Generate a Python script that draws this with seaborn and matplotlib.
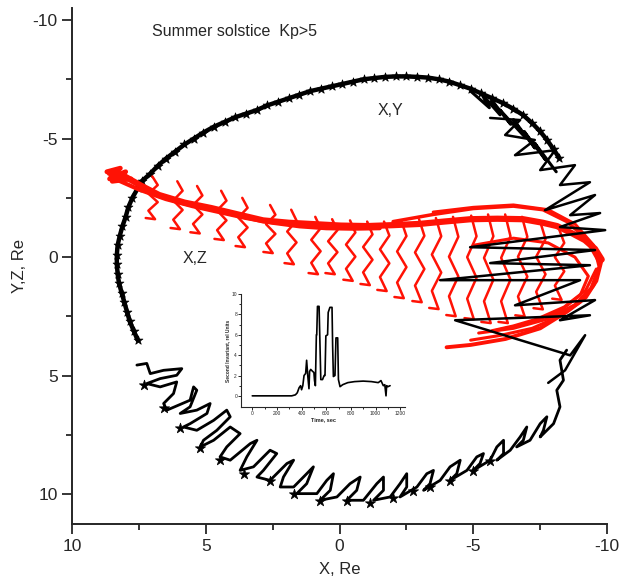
import numpy as np
import pandas as pd
import matplotlib
matplotlib.use("Agg")
import matplotlib.pyplot as plt
import seaborn as sns

# ---- X,Y projection (black), Re ----
xy_arc_x = [7.55, 7.7, 7.85, 7.95, 8.05, 8.15, 8.25, 8.3, 8.33, 8.33, 8.3, 8.22, 8.12, 8.0, 7.9,
            7.75, 7.55, 7.4, 7.1, 6.8, 6.5, 6.15, 5.8, 5.45, 5.1, 4.7, 4.3, 3.9, 3.5, 3.1, 2.7,
            2.3, 1.9, 1.5, 1.1, 0.7, 0.3, -0.1, -0.5, -0.9, -1.3, -1.7, -2.1, -2.5, -2.9, -3.3,
            -3.7, -4.1, -4.5, -4.9, -5.3, -5.7, -6.1, -6.5, -6.85, -7.2, -7.5, -7.75, -8.0, -8.2]
xy_arc_y = [3.5, 3.1, 2.7, 2.3, 1.9, 1.5, 1.1, 0.7, 0.3, -0.1, -0.5, -0.9, -1.3, -1.7, -2.1,
            -2.5, -2.9, -3.2, -3.5, -3.85, -4.15, -4.45, -4.75, -5.0, -5.25, -5.5, -5.7, -5.9,
            -6.05, -6.2, -6.4, -6.55, -6.7, -6.85, -7.0, -7.1, -7.2, -7.3, -7.4, -7.5, -7.55,
            -7.6, -7.62, -7.62, -7.6, -7.57, -7.5, -7.4, -7.25, -7.1, -6.9, -6.7, -6.5, -6.25,
            -6.0, -5.65, -5.3, -4.95, -4.55, -4.2]

# tangled loops just inside the arc on the dusk side
xy_loops_x = [-4.9, -5.6, -5.3, -6.0, -5.7, -6.4, -6.0, -6.9, -6.5, -7.3, -6.9, -7.7, -7.3, -8.1]
xy_loops_y = [-7.0, -6.3, -6.9, -6.0, -6.6, -5.6, -6.2, -5.1, -5.8, -4.6, -5.3, -4.1, -4.8, -3.6]

xy_right_x = [-5.63, -6.75, -6.19, -7.3, -6.56, -8.06, -7.5, -8.8, -8.24, -9.36, -7.68, -9.55,
              -8.62, -9.74, -8.24, -9.93, -4.88, -9.55, -5.63, -9.36, -3.76, -8.99, -6.56,
              -9.55, -8.24, -9.36, -4.32, -8.62, -9.18, -8.43, -7.8]
xy_right_y = [-5.87, -5.78, -5.15, -4.94, -4.3, -4.51, -3.67, -3.88, -3.04, -3.16, -1.98, -2.62,
              -1.77, -1.86, -1.27, -1.14, -0.42, -0.3, 0.25, 0.34, 0.97, 0.97, 2.03, 1.81, 2.66,
              2.45, 2.66, 4.14, 3.29, 4.77, 5.3]

xy_bottom_x = [7.58, 7.21, 7.08, 6.58, 5.9, 6.09, 6.71, 7.21, 6.71, 6.09,
               6.21, 6.58, 6.46, 5.59, 5.46, 5.34, 5.59, 5.96, 5.34, 4.84,
               4.96, 5.59, 5.84, 5.34, 4.71, 4.22, 4.09, 4.59, 5.09, 5.21,
               4.71, 4.09, 3.72, 4.22, 4.47, 4.09, 3.34, 3.09, 3.47, 3.72,
               3.22, 2.6, 2.35, 2.85, 3.09, 2.6, 1.97, 1.72, 2.1, 2.22,
               1.72, 1.23, 0.98, 1.23, 1.6, 0.85, 0.48, 0.23, 0.35, 0.73,
               0.1, -0.39, -0.77, -0.64, -0.27, -0.89, -1.39, -1.64, -1.64, -1.27,
               -1.89, -2.26, -2.51, -2.51, -2.26, -2.89, -3.26, -3.51, -3.38, -3.14,
               -3.76, -4.13, -4.51, -4.38, -4.13, -4.76, -5.13, -5.38, -5.25, -5.0,
               -5.63, -5.88, -6.13, -6.13, -5.88, -6.38, -6.75, -7.0, -6.87, -6.62,
               -7.12, -7.5, -7.75, -7.62, -7.5, -8.0, -8.24, -8.12, -8.37, -8.24, -8.49]
xy_bottom_y = [4.55, 4.48, 4.91, 4.77, 4.7, 4.98, 5.12, 5.33, 5.47, 5.26,
               5.75, 6.17, 6.45, 6.03, 5.47, 5.61, 6.31, 6.59, 6.45, 6.17,
               6.59, 7.02, 7.16, 7.3, 6.88, 6.45, 6.73, 7.3, 7.72, 8.0,
               7.72, 7.16, 7.44, 8.0, 8.42, 8.56, 7.86, 7.72, 8.42, 8.99,
               8.84, 8.14, 8.28, 8.99, 9.27, 9.41, 8.7, 8.56, 9.27, 9.69,
               9.69, 9.13, 8.84, 9.55, 9.97, 9.97, 9.41, 9.13, 9.83, 10.25,
               10.11, 9.55, 9.27, 9.83, 10.25, 10.25, 9.55, 9.27, 9.83, 10.25,
               10.11, 9.55, 9.13, 9.69, 10.11, 9.69, 9.13, 8.99, 9.55, 9.83,
               9.41, 8.84, 8.56, 9.13, 9.41, 8.99, 8.42, 8.28, 8.7, 8.99,
               8.56, 8.0, 7.72, 8.28, 8.56, 8.14, 7.58, 7.16, 7.72, 8.0,
               7.72, 7.02, 6.73, 7.3, 7.58, 7.02, 6.31, 5.61, 5.19, 4.34, 3.92]

xy_star_x = [7.33, 6.58, 5.96, 5.21, 4.47, 3.59, 2.6, 1.72, 0.73, -0.27, -1.14, -2.01, -2.76,
             -3.38, -4.13, -5.0, -5.63]
xy_star_y = [5.4, 6.35, 7.2, 8.05, 8.55, 9.15, 9.45, 10.0, 10.3, 10.3, 10.35, 10.15, 9.85, 9.7,
             9.45, 9.0, 8.6]

# ---- X,Z projection (red), Re ----
xz_band_x = [8.6, 8.3, 8.0, 7.4, 6.75, 5.8, 4.8, 3.8, 2.86, 1.9, 0.93, -0.05, -1.03, -2.0, -2.97,
             -3.9, -4.9, -5.9, -6.86, -7.6, -8.13, -8.7, -9.17, -9.55, -9.8]
xz_band_y = [-3.55, -3.5, -3.38, -3.0, -2.62, -2.3, -2.07, -1.8, -1.55, -1.45, -1.39, -1.33,
             -1.31, -1.35, -1.4, -1.5, -1.6, -1.62, -1.6, -1.45, -1.31, -1.0, -0.72, -0.35, 0.1]
xz_band2_x = [8.5, 7.5, 6.5, 5.5, 4.5, 3.5, 2.5, 1.5, 0.5, -0.5, -1.5]
xz_band2_y = [-3.35, -2.85, -2.45, -2.15, -1.9, -1.65, -1.45, -1.3, -1.22, -1.2, -1.22]
xz_nose_x = [-9.8, -9.6, -9.2, -8.5, -7.5, -6.2, -4.9, -4.0]
xz_nose_y = [0.1, 1.0, 1.7, 2.3, 3.0, 3.45, 3.7, 3.8]
xz_upper_x = [-2.0, -3.5, -5.0, -6.5, -7.6, -8.5, -9.2, -9.7]
xz_upper_y = [-1.5, -1.8, -2.05, -2.15, -2.0, -1.5, -0.8, 0.2]
xz_ret1_x = [-9.75, -9.5, -9.0, -8.2, -7.2, -6.0, -4.9]
xz_ret1_y = [0.3, 1.2, 1.9, 2.5, 3.0, 3.3, 3.5]
xz_ret2_x = [-9.6, -9.2, -8.4, -7.4, -6.5, -5.7]
xz_ret2_y = [0.5, 1.4, 2.1, 2.6, 2.9, 3.1]
xz_mesh1_x = [-3.5, -5.0, -6.5, -7.8, -8.8, -9.5, -9.7, -9.4, -8.8, -7.8, -6.5, -5.2]
xz_mesh1_y = [-1.9, -2.1, -2.2, -2.0, -1.4, -0.5, 0.4, 1.3, 2.0, 2.6, 3.0, 3.2]
xz_mesh2_x = [-5.0, -6.5, -7.8, -8.8, -9.3, -9.0, -8.2, -7.0, -5.8]
xz_mesh2_y = [-0.5, -0.8, -0.6, 0.0, 0.8, 1.6, 2.3, 2.8, 3.1]
xz_blob_x = [8.7, 8.2, 8.6, 8.0, 8.5, 7.8]
xz_blob_y = [-3.6, -3.75, -3.3, -3.6, -3.2, -3.3]

# bounce zigzags hanging off the X,Z band, left to right
xz_hang_x = [
    [7.0, 6.8, 7.15, 6.8, 7.15, 6.9, 7.25],
    [6.07, 5.87, 6.22, 5.87, 6.22, 5.97, 6.32],
    [5.33, 5.13, 5.48, 5.13, 5.48, 5.23, 5.58],
    [4.43, 4.23, 4.58, 4.23, 4.58, 4.33, 4.68],
    [3.64, 3.44, 3.79, 3.44, 3.79, 3.54, 3.89],
    [2.6, 2.4, 2.75, 2.4, 2.75, 2.5, 2.85],
    [1.81, 1.61, 1.96, 1.61, 1.96, 1.71, 2.06],
    [0.91, 0.71, 1.06, 0.71, 1.06, 0.81, 1.16],
    [0.28, 0.08, 0.43, 0.08, 0.43, 0.18, 0.53],
    [-0.39, -0.59, -0.24, -0.59, -0.24, -0.49, -0.14],
    [-1.03, -1.23, -0.88, -1.23, -0.88, -1.13, -0.78],
    [-1.66, -1.86, -1.51, -1.86, -1.51, -1.76, -1.41],
    [-2.3, -2.5, -2.15, -2.5, -2.15, -2.4, -2.05],
    [-2.97, -3.17, -2.82, -3.17, -2.82, -3.07, -2.72],
    [-3.6, -3.8, -3.45, -3.8, -3.45, -3.7, -3.35],
    [-4.24, -4.44, -4.09, -4.44, -4.09, -4.34, -3.99],
    [-4.92, -5.12, -4.77, -5.12, -4.77, -5.02, -4.67],
    [-5.55, -5.75, -5.4, -5.75, -5.4, -5.65, -5.3],
    [-6.19, -6.39, -6.04, -6.39, -6.04, -6.29, -5.94],
    [-6.82, -7.02, -6.67, -7.02, -6.67, -6.92, -6.57],
    [-7.5, -7.7, -7.35, -7.7, -7.35, -7.6, -7.25],
    [-8.2, -8.4, -8.05, -8.4, -8.05, -8.3, -7.95],
]
xz_hang_y = [
    [-3.4, -3.04, -2.68, -2.32, -1.96, -1.6, -1.65],
    [-3.2, -2.8, -2.39, -1.99, -1.58, -1.18, -1.23],
    [-3.0, -2.6, -2.2, -1.8, -1.4, -1.0, -1.05],
    [-2.8, -2.38, -1.97, -1.55, -1.14, -0.72, -0.77],
    [-2.5, -2.08, -1.67, -1.25, -0.84, -0.42, -0.47],
    [-2.2, -1.79, -1.39, -0.98, -0.58, -0.17, -0.22],
    [-2.0, -1.54, -1.08, -0.62, -0.16, 0.3, 0.25],
    [-1.7, -1.22, -0.73, -0.25, 0.24, 0.72, 0.67],
    [-1.6, -1.14, -0.67, -0.21, 0.26, 0.72, 0.67],
    [-1.55, -1.04, -0.53, -0.02, 0.49, 1.0, 0.95],
    [-1.5, -0.96, -0.43, 0.11, 0.64, 1.18, 1.13],
    [-1.5, -0.91, -0.33, 0.26, 0.84, 1.43, 1.38],
    [-1.55, -0.89, -0.24, 0.42, 1.07, 1.73, 1.68],
    [-1.6, -0.9, -0.2, 0.5, 1.2, 1.9, 1.85],
    [-1.65, -0.88, -0.11, 0.65, 1.42, 2.19, 2.14],
    [-1.7, -0.86, -0.02, 0.81, 1.65, 2.49, 2.44],
    [-1.75, -0.88, 0.0, 0.87, 1.75, 2.62, 2.57],
    [-1.8, -0.88, 0.03, 0.95, 1.86, 2.78, 2.73],
    [-1.8, -0.88, 0.03, 0.95, 1.86, 2.78, 2.73],
    [-1.7, -0.86, -0.02, 0.82, 1.66, 2.5, 2.45],
    [-1.5, -0.76, -0.02, 0.72, 1.46, 2.2, 2.15],
    [-1.2, -0.6, 0.0, 0.6, 1.2, 1.8, 1.75],
]

# ---- inset: second invariant vs time ----
inv_time = [0, 320, 350, 365, 380, 392, 400, 410, 420, 433, 441, 450, 460, 465, 474, 490, 500,
            505, 512, 520, 523, 529, 542, 548, 556, 570, 583, 590, 597, 611, 616, 630, 647, 652,
            658, 671, 679, 693, 699, 712, 734, 775, 830, 900, 967, 1022, 1044, 1063, 1075,
            1085, 1090, 1100, 1118]
inv_value = [0, 0, 0.1, 0.3, 0.8, 1.0, 0.6, 1.0, 2.0, 2.2, 3.5, 2.0, 0.7, 2.4, 2.6, 2.4, 2.3,
             1.5, 1.0, 6.0, 6.0, 8.8, 8.8, 5.7, 1.6, 1.6, 2.0, 2.0, 5.9, 6.0, 8.2, 8.7, 8.7, 4.9,
             1.9, 2.0, 5.7, 5.7, 1.6, 0.9, 1.1, 1.3, 1.4, 1.45, 1.4, 1.3, 1.5, 1.0, 1.1, 0.0,
             1.0, 0.9, 1.0]


def trace(ax, xs, ys, color, lw, z=2, **kw):
    sns.lineplot(x=xs, y=ys, sort=False, estimator=None, color=color,
                 linewidth=lw, ax=ax, zorder=z, **kw)


sns.set_style("ticks")
plt.rcParams["font.family"] = ["Liberation Sans", "DejaVu Sans"]
plt.rcParams["axes.unicode_minus"] = False

fig = plt.figure(figsize=(6.33, 5.79), dpi=100)
ax = fig.add_axes([0.114, 0.095, 0.845, 0.891])

# black X,Y
trace(ax, xy_arc_x, xy_arc_y, "black", 3.2, z=2)
sns.scatterplot(x=xy_arc_x, y=xy_arc_y, marker="*", s=45, color="black",
                edgecolor="black", linewidth=0.5, ax=ax, zorder=2)
trace(ax, xy_loops_x, xy_loops_y, "black", 2.2, z=2)
trace(ax, xy_bottom_x, xy_bottom_y, "black", 2.0, z=2)
sns.scatterplot(x=xy_star_x, y=xy_star_y, marker="*", s=60, color="black",
                edgecolor="black", linewidth=0.5, ax=ax, zorder=2)

# red X,Z
red = "#ff1205"
trace(ax, xz_band_x, xz_band_y, red, 4.5, z=3)
trace(ax, xz_band2_x, xz_band2_y, red, 3.0, z=3)
trace(ax, xz_nose_x, xz_nose_y, red, 2.8, z=3)
trace(ax, xz_upper_x, xz_upper_y, red, 2.5, z=3)
trace(ax, xz_blob_x, xz_blob_y, red, 3.5, z=3)
for xs, ys in [(xz_ret1_x, xz_ret1_y), (xz_ret2_x, xz_ret2_y),
               (xz_mesh1_x, xz_mesh1_y), (xz_mesh2_x, xz_mesh2_y)]:
    trace(ax, xs, ys, red, 2.2, z=3)
for xs, ys in zip(xz_hang_x, xz_hang_y):
    trace(ax, xs, ys, red, 1.8, z=3)

# black dawn-side part crosses over the red
trace(ax, xy_right_x, xy_right_y, "black", 1.8, z=4)

ax.set_xlim(10, -10)
ax.set_ylim(11.25, -10.5)
ax.set_xticks([10, 5, 0, -5, -10])
ax.set_yticks([-10, -5, 0, 5, 10])
ax.set_xticks([7.5, 2.5, -2.5, -7.5], minor=True)
ax.set_yticks([-7.5, -2.5, 2.5, 7.5], minor=True)
ax.tick_params(which="major", length=7, width=1.3, labelsize=12.5, direction="out")
ax.tick_params(which="minor", length=4, width=1.3, direction="out")
for s in ["top", "right"]:
    ax.spines[s].set_visible(False)
for s in ["left", "bottom"]:
    ax.spines[s].set_linewidth(1.4)
ax.set_xlabel("X, Re", fontsize=12, labelpad=6)
ax.set_ylabel("Y,Z, Re", fontsize=12, labelpad=4)

ax.text(7.0, -9.5, "Summer solstice  Kp>5", fontsize=11.5, ha="left", va="center")
ax.text(-1.9, -6.2, "X,Y", fontsize=11.5, ha="center", va="center")
ax.text(5.4, 0.04, "X,Z", fontsize=11.5, ha="center", va="center")

# inset
ins = fig.add_axes([0.381, 0.297, 0.259, 0.195])
trace(ins, inv_time, inv_value, "black", 1.2, z=2)
ins.set_xlim(-90, 1240)
ins.set_ylim(-1.1, 10)
ins.set_xticks(range(0, 1201, 200))
ins.set_yticks(range(0, 11, 2))
ins.set_xticks(range(100, 1201, 200), minor=True)
ins.set_yticks(range(1, 11, 2), minor=True)
ins.tick_params(which="major", length=2, width=0.7, labelsize=3.5, pad=1)
ins.tick_params(which="minor", length=1.2, width=0.7)
for s in ["top", "right"]:
    ins.spines[s].set_visible(False)
for s in ["left", "bottom"]:
    ins.spines[s].set_linewidth(0.8)
ins.set_facecolor("none")
ins.set_xlabel("Time, sec", fontsize=4, fontweight="bold", labelpad=1)
ins.set_ylabel("Second Invariant, rel Units", fontsize=3.5, fontweight="bold", labelpad=1)

fig.savefig("out.png", dpi=100)
